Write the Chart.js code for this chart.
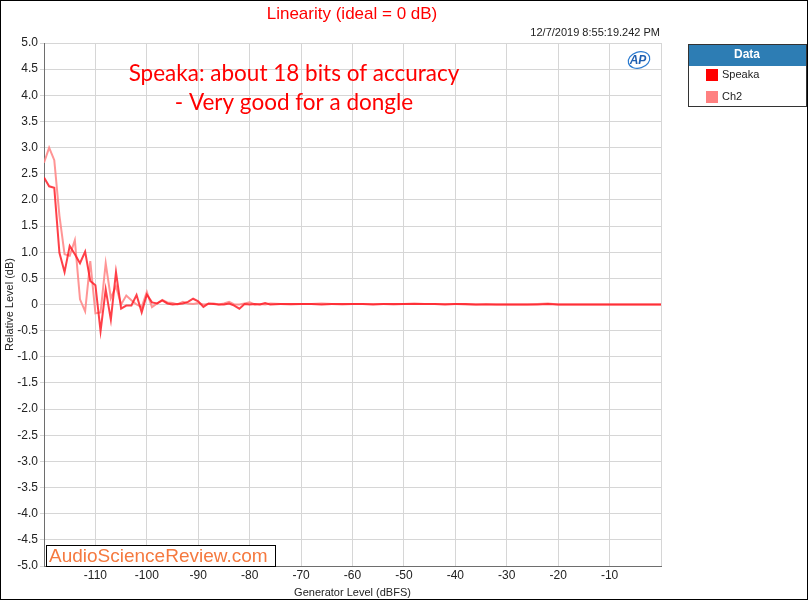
<!DOCTYPE html>
<html>
<head>
<meta charset="utf-8">
<script src="https://cdn.jsdelivr.net/npm/chart.js@4"></script>
<style>
  body { margin: 0; background: #fff; }
  #wrap { width: 808px; height: 600px; }
</style>
</head>
<body>
<div id="wrap"><canvas id="myChart" width="808" height="600"></canvas></div>
<script>
// Dados
var niveis = [
  -120, -119, -118, -117, -116, -115, -114, -113, -112, -111,
  -110, -109, -108, -107, -106, -105, -104, -103, -102, -101,
  -100, -99, -98, -97, -96, -95, -94, -93, -92, -91,
  -90, -89, -88, -87, -86, -85, -84, -83, -82, -81,
  -80, -79, -78, -77, -76, -74, -72, -70, -68, -66,
  -64, -62, -60, -58, -56, -54, -52, -50, -48, -46,
  -44, -42, -40, -38, -36, -34, -32, -30, -28, -26,
  -24, -22, -20, -18, -16, -14, -12, -10, -8, -6,
  -4, -2, 0
];

var speaka = [
  2.43, 2.26, 2.23, 0.99, 0.62, 1.12, 0.96, 0.79, 1.01, 0.45,
  0.37, -0.51, 0.29, -0.29, 0.62, -0.08, -0.02, -0.02, 0.18, -0.15,
  0.19, 0.04, 0.02, 0.08, 0.02, 0.00, 0.01, 0.02, 0.05, 0.11,
  0.06, -0.045, 0.02, 0.01, 0.00, 0.00, 0.02, -0.02, -0.08, 0.01,
  0.00, 0.01, 0.00, 0.03, 0.00, 0.01, 0.01, 0.01, 0.01, 0.00,
  0.01, 0.01, 0.01, 0.01, 0.00, 0.01, 0.01, 0.01, 0.01, 0.01,
  0.01, 0.00, 0.01, 0.01, 0.00, 0.00, 0.00, 0.00, 0.00, 0.00,
  0.00, 0.01, 0.00, 0.00, 0.00, 0.00, 0.00, 0.00, 0.00, 0.00,
  0.00, 0.00, 0.00
];

var ch2 = [
  2.71, 3.00, 2.76, 1.70, 0.96, 0.93, 1.23, 0.10, -0.13, 0.83,
  -0.17, -0.15, 0.79, 0.12, 0.35, 0.00, 0.17, 0.08, 0.00, -0.05,
  0.24, -0.05, 0.02, 0.09, 0.04, 0.03, 0.00, 0.05, 0.02, 0.01,
  0.03, 0.00, 0.01, 0.02, 0.00, 0.02, 0.05, 0.00, 0.00, 0.02,
  0.04, 0.00, 0.01, 0.00, 0.02, 0.01, 0.00, 0.01, 0.01, 0.02,
  0.01, 0.00, 0.01, 0.01, 0.01, 0.01, 0.00, 0.01, 0.02, 0.01,
  0.01, 0.01, 0.01, 0.00, 0.00, 0.01, 0.00, 0.00, 0.00, 0.00,
  0.01, 0.02, 0.00, 0.00, 0.00, 0.00, 0.00, 0.00, 0.00, 0.00,
  0.00, 0.00, 0.00
];

var titulo = 'Linearity (ideal = 0 dB)';
var dataHora = '12/7/2019 8:55:19.242 PM';
var nota1 = 'Speaka: about 18 bits of accuracy';
var nota2 = '- Very good for a dongle';
var marca = 'AudioScienceReview.com';

function pontos(ys) {
    var out = [];
    for (var i = 0; i < niveis.length; i++) {
        out.push({ x: niveis[i], y: ys[i] });
    }
    return out;
}

// desenha titulo, legenda, logo etc
var extras = {
    id: 'extras',
    afterDraw: function (chart) {
        var ctx = chart.ctx;
        var area = chart.chartArea;
        ctx.save();

        // titulo
        ctx.fillStyle = '#ff0000';
        ctx.font = '17px "Liberation Sans", Arial, sans-serif';
        ctx.textAlign = 'center';
        ctx.textBaseline = 'middle';
        ctx.fillText(titulo, 352, 14);

        // data/hora
        ctx.fillStyle = '#222';
        ctx.font = '11px "Liberation Sans", Arial, sans-serif';
        ctx.textAlign = 'right';
        ctx.fillText(dataHora, area.right - 1, 33);

        // anotacao
        ctx.fillStyle = '#ff0000';
        ctx.font = '22.5px Lato, "Open Sans", sans-serif';
        ctx.textAlign = 'center';
        ctx.fillText(nota1, 294, 74);
        ctx.fillText(nota2, 294, 103);

        // logo AP
        ctx.strokeStyle = '#2b7bd0';
        ctx.lineWidth = 1.2;
        ctx.beginPath();
        ctx.ellipse(639, 60, 11, 8, -0.3, 0, Math.PI * 2);
        ctx.stroke();
        ctx.fillStyle = '#1f5fb0';
        ctx.font = 'italic bold 12px "Liberation Sans", Arial, sans-serif';
        ctx.fillText('AP', 638, 61);

        // marca d'agua
        ctx.fillStyle = '#fff';
        ctx.fillRect(46, 545, 229, 21);
        ctx.strokeStyle = '#000';
        ctx.lineWidth = 1;
        ctx.strokeRect(46.5, 545.5, 229, 21);
        ctx.fillStyle = '#f5793f';
        ctx.font = '19px "Liberation Sans", Arial, sans-serif';
        ctx.textAlign = 'left';
        ctx.fillText(marca, 49, 557);

        // legenda
        var lx = 688, ly = 44, lw = 118, lh = 62;
        ctx.fillStyle = '#fff';
        ctx.fillRect(lx, ly, lw, lh);
        ctx.fillStyle = '#2d7db4';
        ctx.fillRect(lx, ly, lw, 22);
        ctx.strokeStyle = '#333';
        ctx.strokeRect(lx + 0.5, ly + 0.5, lw, lh);
        ctx.fillStyle = '#fff';
        ctx.font = 'bold 12px "Liberation Sans", Arial, sans-serif';
        ctx.textAlign = 'center';
        ctx.fillText('Data', lx + lw / 2, ly + 11);
        ctx.textAlign = 'left';
        ctx.font = '11px "Liberation Sans", Arial, sans-serif';
        chart.data.datasets.forEach(function (ds, i) {
            var yy = ly + 31 + i * 22;
            ctx.fillStyle = ds.legendColor;
            ctx.fillRect(lx + 18, yy - 6, 12, 12);
            ctx.fillStyle = '#222';
            ctx.fillText(ds.label, lx + 34, yy);
        });

        // moldura
        ctx.strokeStyle = '#000';
        ctx.lineWidth = 1;
        ctx.strokeRect(0.5, 0.5, 807, 599);
        ctx.restore();
    }
};

var config = {
    type: 'line',
    data: {
        datasets: [{
            label: 'Speaka',
            data: pontos(speaka),
            borderColor: 'rgba(255, 30, 40, 0.85)',
            legendColor: '#ff0000',
            borderWidth: 2,
            pointRadius: 0,
            tension: 0,
            order: 1
        }, {
            label: 'Ch2',
            data: pontos(ch2),
            borderColor: 'rgba(255, 130, 130, 0.85)',
            legendColor: '#ff8080',
            borderWidth: 2,
            pointRadius: 0,
            tension: 0,
            order: 2
        }]
    },
    options: {
        responsive: false,
        animation: false,
        layout: { padding: { left: 3, top: 43, right: 147, bottom: 0 } },
        plugins: {
            legend: { display: false },
            tooltip: { enabled: false }
        },
        scales: {
            x: {
                type: 'linear',
                min: -120,
                max: 0,
                ticks: {
                    stepSize: 10,
                    color: '#222',
                    font: { size: 12, family: '"Liberation Sans", Arial, sans-serif' },
                    padding: 2,
                    callback: function (v) {
                        if (v === -120 || v === 0) return '';
                        return v;
                    }
                },
                grid: { color: '#d6d6d6', tickLength: 0 },
                border: { color: '#6e6e6e' },
                title: {
                    display: true,
                    text: 'Generator Level (dBFS)',
                    color: '#222',
                    font: { size: 11, family: '"Liberation Sans", Arial, sans-serif' },
                    padding: 0
                },
                afterFit: function (scale) { scale.height = 34; }
            },
            y: {
                min: -5,
                max: 5,
                ticks: {
                    stepSize: 0.5,
                    color: '#222',
                    font: { size: 12, family: '"Liberation Sans", Arial, sans-serif' },
                    padding: 2,
                    callback: function (v) {
                        if (v === 0) return '0';
                        return v.toFixed(1);
                    }
                },
                grid: { color: '#d6d6d6', tickLength: 4 },
                border: { color: '#6e6e6e' },
                title: {
                    display: true,
                    text: 'Relative Level (dB)',
                    color: '#222',
                    font: { size: 11, family: '"Liberation Sans", Arial, sans-serif' },
                    padding: 0
                },
                afterFit: function (scale) { scale.width = 41; }
            }
        }
    },
    plugins: [extras]
};

var myChart = new Chart(document.getElementById('myChart'), config);
</script>
</body>
</html>
